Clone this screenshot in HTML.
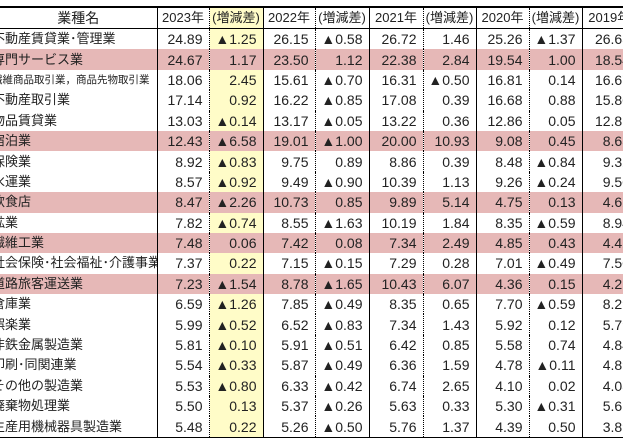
<!DOCTYPE html>
<html><head><meta charset="utf-8"><style>
html,body{margin:0;padding:0;background:#fff;width:623px;height:446px;overflow:hidden;}
table{position:absolute;left:0;top:6px;border-collapse:collapse;table-layout:fixed;width:636px;
font-family:"Liberation Sans","Noto Sans CJK JP",sans-serif;color:#222;}
td{padding:0 6px 0 0;text-align:right;font-size:14px;height:20.4px;line-height:20px;white-space:nowrap;overflow:hidden;}
tr.h td{height:20px;border-bottom:1.5px solid #000;text-align:center;padding:0;font-size:13px;}
table{border-top:2px solid #000;border-bottom:1.5px solid #000;}
td.n{text-align:left;padding:0;text-indent:-8px;font-size:13px;}
tr.h td.n{text-align:center;text-indent:0;font-size:14px;}
td.s{border-right:1.5px solid #000;}
td.d{border-right:1px dotted #000;}
td.y{background:#fffcc8;}
tr.p td{background:#e6b8b7;}
td.sm{font-size:10.5px;}
</style></head><body>
<table>
<colgroup><col style="width:157px"><col style="width:52px"><col style="width:54px"><col style="width:52px"><col style="width:54px"><col style="width:54px"><col style="width:53px"><col style="width:53px"><col style="width:53px"><col style="width:54px"></colgroup>
<tr class="h"><td class="n s">業種名</td><td class="d">2023年</td><td class="s y">(増減差)</td><td class="d">2022年</td><td class="s">(増減差)</td><td class="d">2021年</td><td class="s">(増減差)</td><td class="d">2020年</td><td class="s">(増減差)</td><td>2019年</td></tr>
<tr><td class="n s">不動産賃貸業･管理業</td><td class="d">24.89</td><td class="s y">▲1.25</td><td class="d">26.15</td><td class="s">▲0.58</td><td class="d">26.72</td><td class="s">1.46</td><td class="d">25.26</td><td class="s">▲1.37</td><td>26.63</td></tr>
<tr class="p"><td class="n s">専門サービス業</td><td class="d">24.67</td><td class="s y">1.17</td><td class="d">23.50</td><td class="s">1.12</td><td class="d">22.38</td><td class="s">2.84</td><td class="d">19.54</td><td class="s">1.00</td><td>18.54</td></tr>
<tr><td class="n s sm">繊維商品取引業，商品先物取引業</td><td class="d">18.06</td><td class="s y">2.45</td><td class="d">15.61</td><td class="s">▲0.70</td><td class="d">16.31</td><td class="s">▲0.50</td><td class="d">16.81</td><td class="s">0.14</td><td>16.67</td></tr>
<tr><td class="n s">不動産取引業</td><td class="d">17.14</td><td class="s y">0.92</td><td class="d">16.22</td><td class="s">▲0.85</td><td class="d">17.08</td><td class="s">0.39</td><td class="d">16.68</td><td class="s">0.88</td><td>15.80</td></tr>
<tr><td class="n s">物品賃貸業</td><td class="d">13.03</td><td class="s y">▲0.14</td><td class="d">13.17</td><td class="s">▲0.05</td><td class="d">13.22</td><td class="s">0.36</td><td class="d">12.86</td><td class="s">0.05</td><td>12.81</td></tr>
<tr class="p"><td class="n s">宿泊業</td><td class="d">12.43</td><td class="s y">▲6.58</td><td class="d">19.01</td><td class="s">▲1.00</td><td class="d">20.00</td><td class="s">10.93</td><td class="d">9.08</td><td class="s">0.45</td><td>8.63</td></tr>
<tr><td class="n s">保険業</td><td class="d">8.92</td><td class="s y">▲0.83</td><td class="d">9.75</td><td class="s">0.89</td><td class="d">8.86</td><td class="s">0.39</td><td class="d">8.48</td><td class="s">▲0.84</td><td>9.32</td></tr>
<tr><td class="n s">水運業</td><td class="d">8.57</td><td class="s y">▲0.92</td><td class="d">9.49</td><td class="s">▲0.90</td><td class="d">10.39</td><td class="s">1.13</td><td class="d">9.26</td><td class="s">▲0.24</td><td>9.50</td></tr>
<tr class="p"><td class="n s">飲食店</td><td class="d">8.47</td><td class="s y">▲2.26</td><td class="d">10.73</td><td class="s">0.85</td><td class="d">9.89</td><td class="s">5.14</td><td class="d">4.75</td><td class="s">0.13</td><td>4.62</td></tr>
<tr><td class="n s">鉱業</td><td class="d">7.82</td><td class="s y">▲0.74</td><td class="d">8.55</td><td class="s">▲1.63</td><td class="d">10.19</td><td class="s">1.84</td><td class="d">8.35</td><td class="s">▲0.59</td><td>8.94</td></tr>
<tr class="p"><td class="n s">繊維工業</td><td class="d">7.48</td><td class="s y">0.06</td><td class="d">7.42</td><td class="s">0.08</td><td class="d">7.34</td><td class="s">2.49</td><td class="d">4.85</td><td class="s">0.43</td><td>4.42</td></tr>
<tr><td class="n s">社会保険･社会福祉･介護事業</td><td class="d">7.37</td><td class="s y">0.22</td><td class="d">7.15</td><td class="s">▲0.15</td><td class="d">7.29</td><td class="s">0.28</td><td class="d">7.01</td><td class="s">▲0.49</td><td>7.50</td></tr>
<tr class="p"><td class="n s">道路旅客運送業</td><td class="d">7.23</td><td class="s y">▲1.54</td><td class="d">8.78</td><td class="s">▲1.65</td><td class="d">10.43</td><td class="s">6.07</td><td class="d">4.36</td><td class="s">0.15</td><td>4.21</td></tr>
<tr><td class="n s">倉庫業</td><td class="d">6.59</td><td class="s y">▲1.26</td><td class="d">7.85</td><td class="s">▲0.49</td><td class="d">8.35</td><td class="s">0.65</td><td class="d">7.70</td><td class="s">▲0.59</td><td>8.29</td></tr>
<tr><td class="n s">娯楽業</td><td class="d">5.99</td><td class="s y">▲0.52</td><td class="d">6.52</td><td class="s">▲0.83</td><td class="d">7.34</td><td class="s">1.43</td><td class="d">5.92</td><td class="s">0.12</td><td>5.79</td></tr>
<tr><td class="n s">非鉄金属製造業</td><td class="d">5.81</td><td class="s y">▲0.10</td><td class="d">5.91</td><td class="s">▲0.51</td><td class="d">6.42</td><td class="s">0.85</td><td class="d">5.58</td><td class="s">0.74</td><td>4.84</td></tr>
<tr><td class="n s">印刷･同関連業</td><td class="d">5.54</td><td class="s y">▲0.33</td><td class="d">5.87</td><td class="s">▲0.49</td><td class="d">6.36</td><td class="s">1.59</td><td class="d">4.78</td><td class="s">▲0.11</td><td>4.89</td></tr>
<tr><td class="n s">その他の製造業</td><td class="d">5.53</td><td class="s y">▲0.80</td><td class="d">6.33</td><td class="s">▲0.42</td><td class="d">6.74</td><td class="s">2.65</td><td class="d">4.10</td><td class="s">0.02</td><td>4.08</td></tr>
<tr><td class="n s">廃棄物処理業</td><td class="d">5.50</td><td class="s y">0.13</td><td class="d">5.37</td><td class="s">▲0.26</td><td class="d">5.63</td><td class="s">0.33</td><td class="d">5.30</td><td class="s">▲0.31</td><td>5.61</td></tr>
<tr><td class="n s">生産用機械器具製造業</td><td class="d">5.48</td><td class="s y">0.22</td><td class="d">5.26</td><td class="s">▲0.50</td><td class="d">5.76</td><td class="s">1.37</td><td class="d">4.39</td><td class="s">0.50</td><td>3.89</td></tr>
</table>
</body></html>
